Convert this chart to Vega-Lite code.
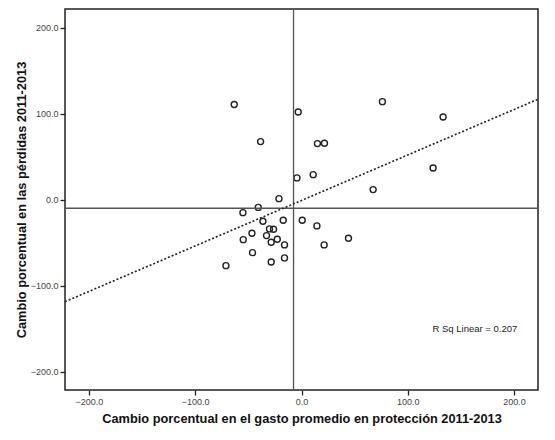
{
  "$schema": "https://vega.github.io/schema/vega-lite/v6.json",
  "description": "Cambio porcentual en el gasto promedio en protección vs cambio porcentual en las pérdidas 2011-2013",
  "autosize": "none",
  "width": 473,
  "height": 381,
  "padding": {"left": 65, "top": 9, "right": 17, "bottom": 50},
  "background": "white",
  "config": {
    "font": "Liberation Sans",
    "view": {"stroke": "#222", "strokeWidth": 1.5},
    "axis": {
      "grid": false,
      "domain": false,
      "ticks": true,
      "tickColor": "#222",
      "tickSize": 5,
      "tickWidth": 1.3,
      "labelFont": "Liberation Sans",
      "labelFontSize": 9,
      "labelColor": "#444",
      "labelPadding": 2,
      "titleFont": "Liberation Sans",
      "titleFontSize": 12.8,
      "titleFontWeight": "bold",
      "titleColor": "#111"
    }
  },
  "datasets": {
    "puntos": [
      {"gasto": -63.3, "perdidas": 111.0},
      {"gasto": -38.5, "perdidas": 67.8},
      {"gasto": -3.1, "perdidas": 102.3},
      {"gasto": 15.0, "perdidas": 65.5},
      {"gasto": 21.6, "perdidas": 65.9},
      {"gasto": -4.3, "perdidas": 25.6},
      {"gasto": 11.0, "perdidas": 29.4},
      {"gasto": 76.1, "perdidas": 114.3},
      {"gasto": 133.2, "perdidas": 96.5},
      {"gasto": 123.8, "perdidas": 37.2},
      {"gasto": 67.4, "perdidas": 12.0},
      {"gasto": 44.2, "perdidas": -44.5},
      {"gasto": -21.2, "perdidas": 1.5},
      {"gasto": -40.7, "perdidas": -8.7},
      {"gasto": -55.1, "perdidas": -14.8},
      {"gasto": -36.3, "perdidas": -24.8},
      {"gasto": -17.2, "perdidas": -23.6},
      {"gasto": 0.7, "perdidas": -23.6},
      {"gasto": 14.5, "perdidas": -30.2},
      {"gasto": -30.1, "perdidas": -33.7},
      {"gasto": -26.3, "perdidas": -34.1},
      {"gasto": -46.6, "perdidas": -38.7},
      {"gasto": -32.9, "perdidas": -41.5},
      {"gasto": -54.8, "perdidas": -46.2},
      {"gasto": -22.8, "perdidas": -45.7},
      {"gasto": -28.5, "perdidas": -49.2},
      {"gasto": -16.0, "perdidas": -52.3},
      {"gasto": 21.3, "perdidas": -52.3},
      {"gasto": -46.1, "perdidas": -61.3},
      {"gasto": -16.0, "perdidas": -67.4},
      {"gasto": -28.5, "perdidas": -72.1},
      {"gasto": -71.1, "perdidas": -76.4}
    ],
    "ajuste": [
      {"gasto": -222.5, "perdidas": -118.3},
      {"gasto": 222.5, "perdidas": 117.1}
    ]
  },
  "layer": [
    {
      "data": {"name": "puntos"},
      "mark": {"type": "point", "shape": "circle", "filled": false, "color": "#222", "size": 36, "strokeWidth": 1.4, "opacity": 1},
      "encoding": {
        "x": {
          "field": "gasto",
          "type": "quantitative",
          "scale": {"domain": [-222.5, 222.5], "nice": false, "zero": false},
          "axis": {
            "values": [-200, -100, 0, 100, 200],
            "format": ".1f",
            "title": "Cambio porcentual en el gasto promedio en protección 2011-2013",
            "titlePadding": 6
          }
        },
        "y": {
          "field": "perdidas",
          "type": "quantitative",
          "scale": {"domain": [-221, 222], "nice": false, "zero": false},
          "axis": {
            "values": [-200, -100, 0, 100, 200],
            "format": ".1f",
            "title": "Cambio porcentual en las pérdidas 2011-2013",
            "titlePadding": 2
          }
        }
      }
    },
    {
      "data": {"values": [{"gasto": -7.5}]},
      "mark": {"type": "rule", "color": "#555", "strokeWidth": 1.3},
      "encoding": {"x": {"field": "gasto", "type": "quantitative"}}
    },
    {
      "data": {"values": [{"perdidas": -9.7}]},
      "mark": {"type": "rule", "color": "#555", "strokeWidth": 1.3},
      "encoding": {"y": {"field": "perdidas", "type": "quantitative"}}
    },
    {
      "data": {"name": "ajuste"},
      "mark": {"type": "line", "color": "#222", "strokeWidth": 1.6, "strokeDash": [2, 2]},
      "encoding": {
        "x": {"field": "gasto", "type": "quantitative"},
        "y": {"field": "perdidas", "type": "quantitative"}
      }
    },
    {
      "data": {"values": [{"gasto": 203, "perdidas": -150, "etiqueta": "R Sq Linear = 0.207"}]},
      "mark": {"type": "text", "align": "right", "baseline": "middle", "fontSize": 9.5, "color": "#222", "font": "Liberation Sans"},
      "encoding": {
        "x": {"field": "gasto", "type": "quantitative"},
        "y": {"field": "perdidas", "type": "quantitative"},
        "text": {"field": "etiqueta"}
      }
    }
  ]
}
